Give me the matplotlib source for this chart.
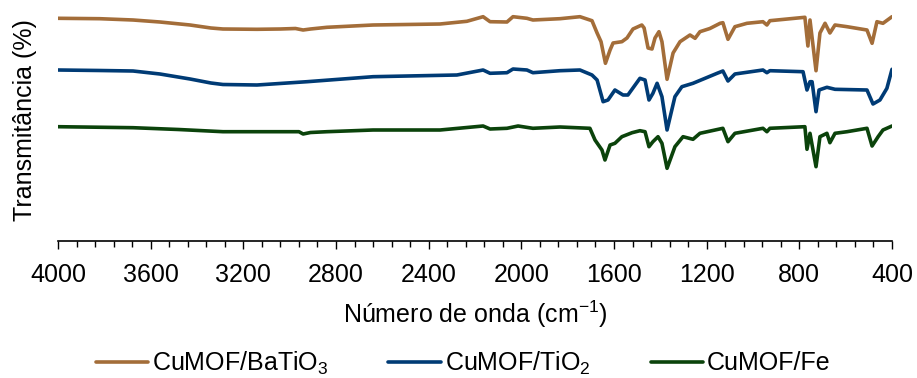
import matplotlib
matplotlib.use("Agg")
import matplotlib.pyplot as plt
from matplotlib.ticker import MultipleLocator

plt.rcParams['font.family'] = ['Liberation Sans', 'DejaVu Sans']
plt.rcParams['mathtext.fontset'] = 'custom'
plt.rcParams['mathtext.rm'] = 'Liberation Sans'
plt.rcParams['mathtext.it'] = 'Liberation Sans'

# CuMOF/BaTiO3
wn_ba = [4000, 3820, 3676, 3560, 3430, 3340, 3288, 3141, 3040, 2975, 2942, 2910, 2839, 2640, 2351, 2235,
         2165, 2135, 2062, 2036, 1976, 1950, 1833, 1747, 1695, 1673, 1656, 1637, 1617, 1604, 1566, 1544,
         1518, 1480, 1470, 1453, 1436, 1423, 1406, 1393, 1371, 1345, 1315, 1272, 1250, 1229, 1186, 1142,
         1130, 1108, 1078, 1026, 957, 940, 927, 776, 763, 754, 728, 711, 689, 668, 646, 594, 508, 486,
         465, 439, 400]
t_ba = [222.7, 222.3, 221, 219, 216, 213, 212, 211.7, 212, 212.5, 211, 212, 213.7, 216, 217, 219.7,
        224.3, 219.3, 219, 224.3, 222.7, 221, 222.3, 224.3, 220.3, 208, 199.3, 177.7, 191, 198, 199.3, 203,
        212, 216, 213, 193, 192, 203, 209.3, 199.3, 161.7, 188, 199.3, 206, 202.7, 209.3, 212.5, 217.7,
        218.3, 201.7, 214.3, 217.7, 219.3, 216, 220.3, 223.7, 195, 221, 170.3, 208, 217.7, 208, 216, 214.3, 211, 197.7,
        219.3, 217.7, 224.3]

# CuMOF/TiO2
wn_ti = [4000, 3820, 3676, 3560, 3430, 3340, 3288, 3141, 2925, 2640, 2278, 2165, 2135, 2062, 2036, 1976,
         1950, 1833, 1747, 1695, 1673, 1647, 1626, 1596, 1561, 1540, 1488, 1466, 1449, 1432, 1414, 1393,
         1371, 1337, 1307, 1259, 1155, 1130, 1108, 1078, 957, 940, 927, 784, 767, 754, 745, 728, 715, 681,
         646, 508, 482, 452, 422, 400]
t_ti = [171, 170.5, 170, 167, 162, 158, 156.5, 156, 159.3, 164.3, 166, 171, 167.7, 168.3, 172, 171,
        168.3, 170.3, 171, 166, 161, 139.3, 141, 151, 146, 146, 162.7, 161, 141, 147.7, 157.7, 144.3,
        111, 144.3, 154.3, 157.7, 167.7, 170, 160, 167, 171, 168.3, 170.3, 169.3, 151, 159.3, 159.3, 129.3, 151, 153.7,
        151.7, 151, 137, 141, 152.7, 171.7]

# CuMOF/Fe
wn_fe = [4000, 3676, 3480, 3288, 2960, 2942, 2910, 2839, 2640, 2351, 2165, 2135, 2062, 2014, 1950, 1833,
         1704, 1682, 1652, 1639, 1617, 1596, 1566, 1522, 1488, 1466, 1449, 1432, 1410, 1393, 1371, 1337,
         1302, 1259, 1229, 1130, 1108, 1078, 957, 940, 927, 776, 767, 754, 728, 711, 681, 668, 646, 594,
         508, 486, 460, 439, 400]
t_fe = [114.3, 113.3, 111.5, 109.3, 109.3, 107, 108.5, 109.3, 111, 111, 115, 112, 112.7, 115, 112.7, 114,
        112.7, 101, 91, 81, 96, 97.7, 104.3, 108.3, 110.3, 109.3, 94.3, 99.3, 104.3, 97.7, 72.7, 94.3,
        104.3, 101.7, 107.7, 112.7, 99.3, 107.7, 112.7, 109.3, 112.7, 114.3, 91.7, 107.7, 74.3, 104.3, 107.7, 98.3, 107.7, 109.3,
        112.7, 95, 104.3, 111, 115]

labels = ['CuMOF/BaTiO$_3$', 'CuMOF/TiO$_2$', 'CuMOF/Fe']
colors = ['#A36D39', '#003B75', '#0B430B']
xticks = [4000, 3600, 3200, 2800, 2400, 2000, 1600, 1200, 800, 400]

fig = plt.figure(figsize=(9.17, 3.78), dpi=100)
ax = fig.add_axes([58/917, (378-241)/378, (892-58)/917, 241/378])

for wn, t, lab, c in zip([wn_ba, wn_ti, wn_fe], [t_ba, t_ti, t_fe], labels, colors):
    ax.plot(wn, t, color=c, lw=2.6, label=lab, solid_joinstyle='round', solid_capstyle='round')

ax.set_xlim(4000, 400)
ax.set_ylim(0, 241)
ax.set_xticks(xticks)
ax.xaxis.set_minor_locator(MultipleLocator(80))
ax.tick_params(axis='x', which='major', length=6, width=1, direction='out', labelsize=18, pad=10)
ax.tick_params(axis='x', which='minor', length=4, width=1, direction='out')
ax.set_yticks([])
for s in ['left', 'right', 'top']:
    ax.spines[s].set_visible(False)
ax.spines['bottom'].set_linewidth(1.2)

ax.set_xlabel('Número de onda (cm$^{-1}$)', fontsize=18, labelpad=8)
ax.set_ylabel('Transmitância (%)', fontsize=18, labelpad=15)

fig.legend(loc='center', bbox_to_anchor=(0.505, 1 - 363/378), ncol=3, frameon=False,
           fontsize=18, handlelength=2.1, columnspacing=2.4, handletextpad=0.15)

fig.savefig('out.png', dpi=100)
